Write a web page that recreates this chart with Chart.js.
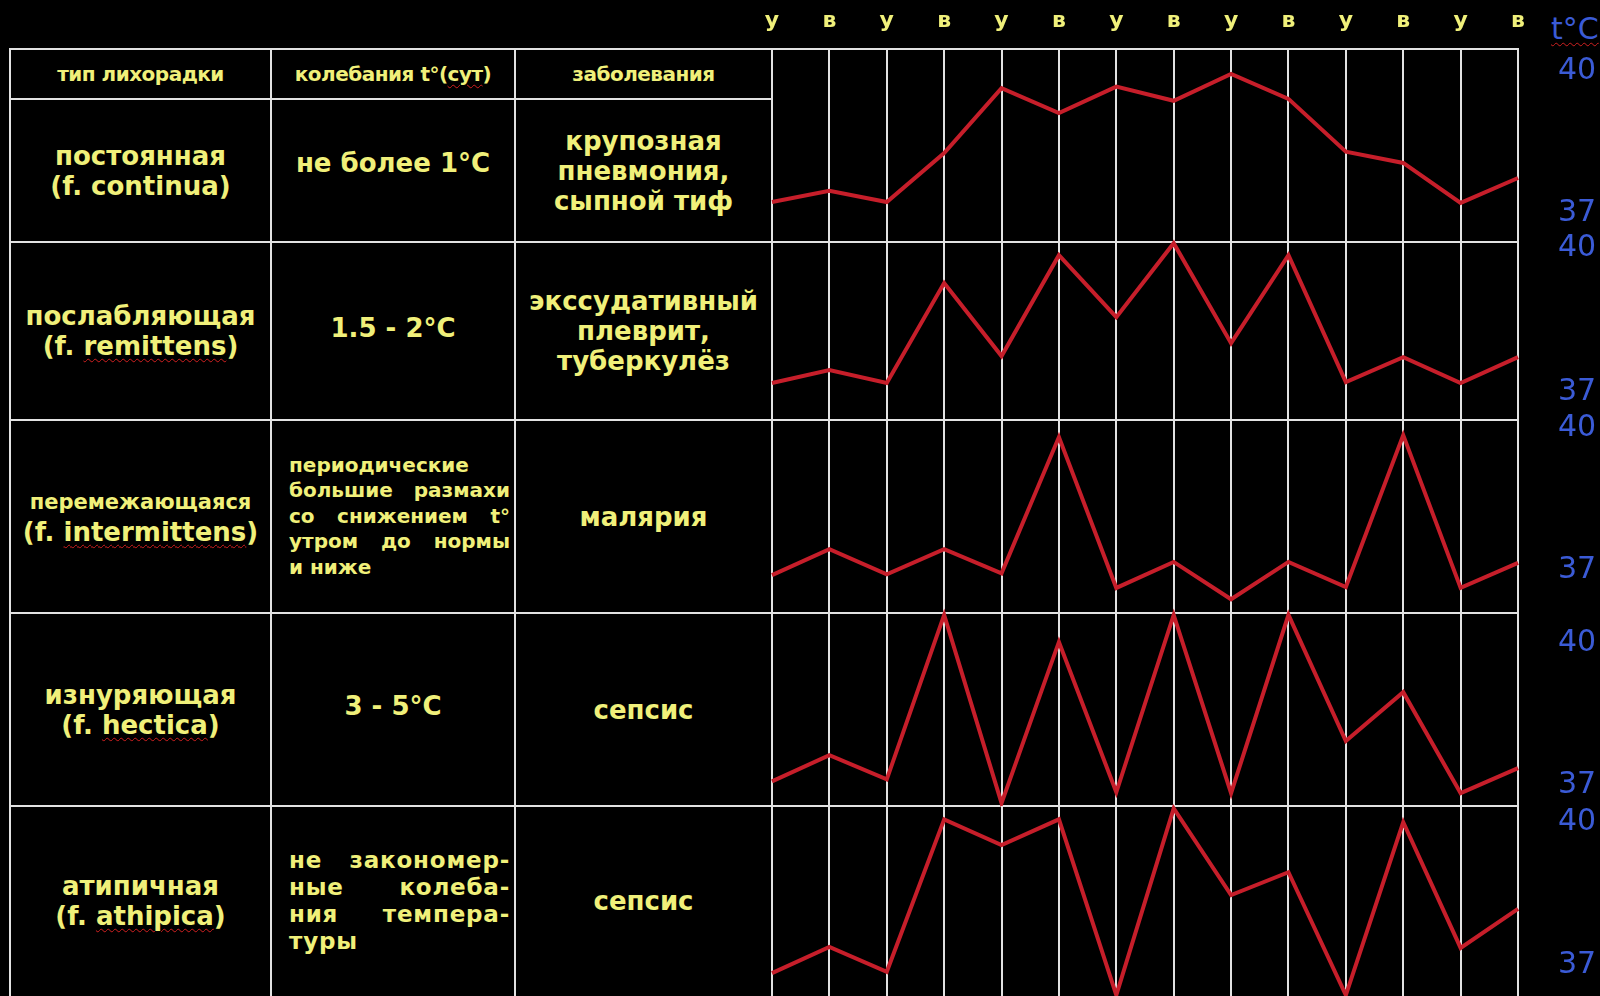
<!DOCTYPE html>
<html lang="ru">
<head>
<meta charset="utf-8">
<script src="https://cdn.jsdelivr.net/npm/chart.js@4.4.1/dist/chart.umd.min.js"></script>
<style>
  html, body { margin: 0; padding: 0; background: #000; width: 1600px; height: 996px; overflow: hidden; }
  body { position: relative; font-family: "DejaVu Sans", sans-serif; font-weight: bold; color: #f0f07a; }
  .line { position: absolute; background: #e2e2e2; }
  .cell { position: absolute; display: flex; flex-direction: column; align-items: center; justify-content: center; text-align: center; box-sizing: border-box; white-space: nowrap; }
  .head { font-size: 20px; letter-spacing: -0.5px; }
  .big { font-size: 26px; line-height: 30px; }
  .just { align-items: stretch; padding: 0 5px 0 18px; }
  .just div { text-align: justify; text-align-last: justify; white-space: normal; }
  .just div:last-child { text-align-last: left; }
  .spell { text-decoration: underline wavy #d02020; text-decoration-thickness: 1px; text-underline-offset: 3px; }
  canvas { position: absolute; }
  #unit { position: absolute; left: 1551px; top: 11px; font: 30px "DejaVu Sans", sans-serif; color: #3b5bd6; }
</style>
</head>
<body>
<div id="unit"><span class="spell">t°C</span></div>

<script>
// утро / вечер
const timeLabels = ['у', 'в', 'у', 'в', 'у', 'в', 'у', 'в', 'у', 'в', 'у', 'в', 'у', 'в'];
const tempTicks = [37, 40];

const headers = ['тип лихорадки', 'колебания t°(<span class="spell">сут</span>)', 'заболевания'];
const feverNames = ['постоянная', 'послабляющая', 'перемежающаяся', 'изнуряющая', 'атипичная'];
const latinNames = ['f. continua', 'f. <span class="spell">remittens</span>', 'f. <span class="spell">intermittens</span>',
                    'f. <span class="spell">hectica</span>', 'f. <span class="spell">athipica</span>'];
const swings = [
    ['не более 1°С'],
    ['1.5 - 2°С'],
    ['периодические', 'большие размахи', 'со снижением t°', 'утром до нормы', 'и ниже'],
    ['3 - 5°С'],
    ['не закономер-', 'ные колеба-', 'ния темпера-', 'туры']
];
const diseases = [
    ['крупозная', 'пневмония,', 'сыпной тиф'],
    ['экссудативный', 'плеврит,', 'туберкулёз'],
    ['малярия'],
    ['сепсис'],
    ['сепсис']
];

// температура, °C (утро/вечер)
const continua     = [37.23, 37.47, 37.23, 38.27, 39.65, 39.12, 39.68, 39.38, 39.95, 39.42, 38.30, 38.06, 37.21, 37.74];
const remittens    = [37.19, 37.46, 37.19, 39.27, 37.75, 39.85, 38.56, 40.10, 38.02, 39.85, 37.21, 37.73, 37.19, 37.73];
const intermittens = [36.89, 37.44, 36.91, 37.44, 36.93, 39.81, 36.62, 37.17, 36.38, 37.17, 36.64, 39.85, 36.62, 37.15];
const hectica      = [37.08, 37.63, 37.12, 40.59, 36.62, 40.02, 36.85, 40.59, 36.83, 40.59, 37.93, 38.96, 36.83, 37.36];
const athipica     = [36.83, 37.38, 36.86, 40.06, 39.52, 40.06, 36.37, 40.29, 38.47, 38.95, 36.37, 40.00, 37.36, 38.18];
const series = [continua, remittens, intermittens, hectica, athipica];

// layout
const colX = [10, 271, 515, 772];
const gridRight = 1518;
const tableTop = 49;
const headBottom = 99;
const rowEdges = [99, 242, 420, 613, 806, 996];
const yRanges = [[36.38, 40.48], [36.42, 40.125], [36.09, 40.17], [36.56, 40.63], [36.35, 40.34]];
const swingShift = [-8, -3, 0, -4, 0];

function addLine(x, y, w, h) {
    const d = document.createElement('div');
    d.className = 'line';
    d.style.left = x + 'px'; d.style.top = y + 'px';
    d.style.width = w + 'px'; d.style.height = h + 'px';
    document.body.appendChild(d);
}

function addCell(col, top, bottom, html, cls) {
    const d = document.createElement('div');
    d.className = 'cell ' + (cls || '');
    d.style.left = colX[col] + 'px';
    d.style.width = (colX[col + 1] - colX[col]) + 'px';
    d.style.top = top + 'px';
    d.style.height = (bottom - top) + 'px';
    d.innerHTML = html;
    document.body.appendChild(d);
}

// table borders
addLine(colX[0] - 1, tableTop - 1, gridRight - colX[0] + 2, 2);
addLine(colX[0] - 1, headBottom - 1, colX[3] - colX[0], 2);
for (let i = 1; i < rowEdges.length - 1; i++) {
    addLine(colX[0] - 1, rowEdges[i] - 1, gridRight - colX[0] + 2, 2);
}
colX.forEach(x => addLine(x - 1, tableTop - 1, 2, 996 - tableTop + 1));

// header
headers.forEach((h, i) => addCell(i, tableTop, headBottom, '<div>' + h + '</div>', 'head'));

// rows
for (let r = 0; r < 5; r++) {
    const top = rowEdges[r], bottom = rowEdges[r + 1];
    const nameStyle = feverNames[r].length > 12 ? 'font-size:21px;' : '';
    addCell(0, top, bottom,
        '<div style="' + nameStyle + 'line-height:30px">' + feverNames[r] + '</div><div>(' + latinNames[r] + ')</div>', 'big');
    if (swings[r].length > 1) {
        const lh = r === 2 ? '25.5px' : '27px';
        const size = r === 2 ? '20px' : '23px;letter-spacing:0.8px';
        addCell(1, top, bottom, swings[r].map(s => '<div style="line-height:' + lh + ';font-size:' + size + '">' + s + '</div>').join(''), 'just');
    } else {
        addCell(1, top + swingShift[r], bottom + swingShift[r], '<div>' + swings[r][0] + '</div>', 'big');
    }
    addCell(2, top, bottom, diseases[r].map(s => '<div>' + s + '</div>').join(''), 'big');
}

// charts
function makeChart(r) {
    const showTop = r === 0;
    const top = showTop ? 0 : rowEdges[r] - 20;
    const bottom = rowEdges[r + 1] + 20;
    const canvas = document.createElement('canvas');
    canvas.width = 1600 - (colX[3] - 20);
    canvas.height = bottom - top;
    canvas.style.left = (colX[3] - 20) + 'px';
    canvas.style.top = top + 'px';
    document.body.appendChild(canvas);

    return new Chart(canvas, {
        type: 'line',
        data: {
            labels: timeLabels,
            datasets: [{
                data: series[r],
                borderColor: '#c61e2a',
                borderWidth: 4,
                pointRadius: 0,
                tension: 0,
                clip: false
            }]
        },
        options: {
            responsive: false,
            animation: false,
            layout: { padding: { left: 20, right: 0, top: showTop ? 0 : 20, bottom: 20 } },
            plugins: { legend: { display: false }, tooltip: { enabled: false } },
            scales: {
                x: {
                    position: 'top',
                    offset: false,
                    grid: { color: '#e2e2e2', lineWidth: 2, drawTicks: false },
                    border: { display: false },
                    ticks: {
                        display: showTop,
                        color: '#f0f07a',
                        font: { family: 'DejaVu Sans', size: 22, weight: 'bold' },
                        padding: 15,
                        maxRotation: 0,
                        autoSkip: false
                    },
                    afterFit: s => {
                        s.height = showTop ? tableTop : 0;
                        s.paddingLeft = 0; s.paddingRight = 0;
                    }
                },
                y: {
                    position: 'right',
                    min: yRanges[r][0],
                    max: yRanges[r][1],
                    grid: { display: false },
                    border: { display: false },
                    afterBuildTicks: s => { s.ticks = tempTicks.map(v => ({ value: v })); },
                    ticks: {
                        color: '#3b5bd6',
                        font: { family: 'DejaVu Sans', size: 30 },
                        padding: 32
                    },
                    afterFit: s => {
                        s.width = 1600 - gridRight;
                        s.paddingTop = 0; s.paddingBottom = 0;
                    }
                }
            }
        }
    });
}

for (let r = 0; r < 5; r++) makeChart(r);
</script>
</body>
</html>
